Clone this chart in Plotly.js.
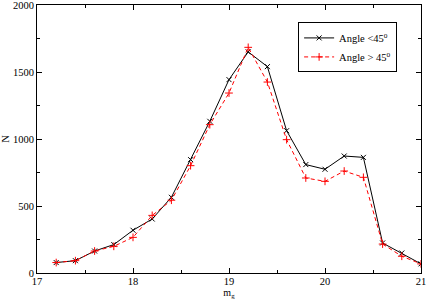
<!DOCTYPE html>
<html>
<head>
<meta charset="utf-8">
<script src="https://cdn.plot.ly/plotly-3.0.1.min.js"></script>
<style>html,body{margin:0;padding:0;background:#fff;}#chart{width:426px;height:300px;}</style>
</head>
<body>
<div id="chart"></div>
<script>
var mg = [17.2,17.4,17.6,17.8,18.0,18.2,18.4,18.6,18.8,19.0,19.2,19.4,19.6,19.8,20.0,20.2,20.4,20.6,20.8,21.0];
var nLow = [78,92,164,212,319,403,565,846,1132,1443,1650,1540,1062,809,774,873,863,224,149,68];
var nHigh = [78,92,164,199,266,430,543,801,1107,1343,1684,1425,995,709,684,761,714,216,125,68];
var nameLow = "Angle <45<sup>o</sup>";
var nameHigh = "Angle > 45<sup>o</sup>";
var xTicks = [17, 18, 19, 20, 21];
var yTicks = [0, 500, 1000, 1500, 2000];

var traces = [
  {x: mg, y: nLow, name: nameLow, type: 'scatter', mode: 'lines+markers',
   line: {color: '#000000', width: 1},
   marker: {symbol: 'x-thin-open', size: 5, color: '#000000', line: {color: '#000000', width: 1}}},
  {x: mg, y: nHigh, name: nameHigh, type: 'scatter', mode: 'lines+markers',
   line: {color: '#ff0000', width: 1, dash: '4px,3px'},
   marker: {symbol: 'cross-thin-open', size: 5.5, color: '#ff0000', line: {color: '#ff0000', width: 1}}}
];

var fam = 'Liberation Serif, Times New Roman, serif';
var fs = 10.5;
var layout = {
  width: 426, height: 300,
  margin: {l: 37, r: 5, t: 5, b: 27, pad: 0},
  paper_bgcolor: '#fff', plot_bgcolor: '#fff',
  font: {family: fam, size: fs, color: '#000'},
  showlegend: true,
  legend: {x: 0.68, y: 0.935, xanchor: 'left', yanchor: 'top', bgcolor: '#fff',
           bordercolor: '#000', borderwidth: 1, font: {family: fam, size: fs, color: '#000'},
           tracegroupgap: 0, itemwidth: 30},
  xaxis: {range: [17, 21], tickmode: 'array', tickvals: xTicks, ticktext: xTicks.map(String),
          ticklabeloverflow: 'allow', ticklabelstandoff: -2,
          ticks: 'inside', ticklen: 5, tickwidth: 1, tickcolor: '#000',
          showline: true, linecolor: '#000', linewidth: 1, mirror: 'allticks', showgrid: false, zeroline: false,
          minor: {tickmode: 'array', tickvals: [17.5, 18.5, 19.5, 20.5], ticks: 'inside', ticklen: 3, tickcolor: '#000', showgrid: false},
          tickfont: {family: fam, size: fs, color: '#000'},
          title: {text: 'm<sub>g</sub>', font: {family: fam, size: 10, color: '#000'}, standoff: 0}},
  yaxis: {range: [0, 2000], tickmode: 'array', tickvals: yTicks, ticktext: yTicks.map(String),
          ticklabeloverflow: 'allow',
          ticks: 'inside', ticklen: 5, tickwidth: 1, tickcolor: '#000',
          showline: true, linecolor: '#000', linewidth: 1, mirror: 'allticks', showgrid: false, zeroline: false,
          minor: {tickmode: 'array', tickvals: [250, 750, 1250, 1750], ticks: 'inside', ticklen: 3, tickcolor: '#000', showgrid: false},
          tickfont: {family: fam, size: fs, color: '#000'},
          title: {text: 'N', font: {family: fam, size: fs, color: '#000'}, standoff: 2}}
};

Plotly.newPlot('chart', traces, layout, {displayModeBar: false, staticPlot: true});
</script>
</body>
</html>
